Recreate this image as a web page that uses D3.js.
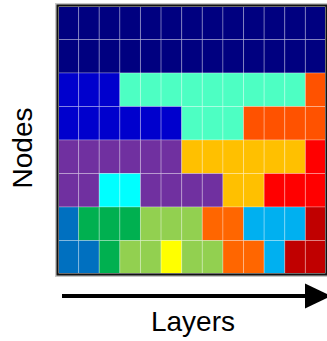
<!DOCTYPE html>
<html>
<head>
<meta charset="utf-8">
<script src="https://cdn.jsdelivr.net/npm/d3@7"></script>
<style>
  html, body { margin: 0; padding: 0; background: #fff; }
  svg { display: block; }
  text { font-family: "Liberation Sans", Arial, sans-serif; fill: #000; }
</style>
</head>
<body>
<svg id="chart" width="327" height="341"></svg>
<script>
// Layers along x, nodes along y
const layers = ["L1", "L2", "L3", "L4", "L5", "L6", "L7", "L8", "L9", "L10", "L11", "L12", "L13"];
const nodes = ["N1", "N2", "N3", "N4", "N5", "N6", "N7", "N8"];

// Colour of each group
const groupColors = {
  A: "#000080", // navy
  B: "#0000CD", // medium blue
  C: "#4DFFC3", // aquamarine
  D: "#FF5200", // orange-red
  E: "#7030A0", // purple
  F: "#FFC000", // gold
  G: "#FF0000", // red
  H: "#00FFFF", // cyan
  I: "#0070C0", // blue
  J: "#00B050", // green
  K: "#92D050", // light green
  L: "#FF6600", // orange
  M: "#00B0F0", // light blue
  N: "#C00000", // dark red
  O: "#FFFF00"  // yellow
};

// Group assignment of each node, layer by layer
const row1 = ["A","A","A","A","A","A","A","A","A","A","A","A","A"];
const row2 = ["A","A","A","A","A","A","A","A","A","A","A","A","A"];
const row3 = ["B","B","B","C","C","C","C","C","C","C","C","C","D"];
const row4 = ["B","B","B","B","B","B","C","C","C","D","D","D","D"];
const row5 = ["E","E","E","E","E","E","F","F","F","F","F","F","G"];
const row6 = ["E","E","H","H","E","E","E","E","F","F","G","G","G"];
const row7 = ["I","J","J","J","K","K","K","L","L","M","M","M","N"];
const row8 = ["I","I","J","K","K","O","K","K","L","L","M","N","N"];
const rows = [row1, row2, row3, row4, row5, row6, row7, row8];

const svg = d3.select("#chart");

const x = d3.scaleBand().domain(layers).range([58, 326]).padding(0);
const y = d3.scaleBand().domain(nodes).range([6, 274]).padding(0);

const cells = [];
rows.forEach((r, i) => r.forEach((g, j) => cells.push({ node: nodes[i], layer: layers[j], group: g })));

// Cells
svg.append("g")
  .selectAll("rect")
  .data(cells)
  .join("rect")
  .attr("x", d => x(d.layer))
  .attr("y", d => y(d.node))
  .attr("width", x.bandwidth())
  .attr("height", y.bandwidth())
  .attr("fill", d => groupColors[d.group])
  .attr("stroke", "rgba(255,255,255,0.28)")
  .attr("stroke-width", 1);

// Frame with soft halo
const [x0, x1] = x.range();
const [y0, y1] = y.range();
svg.append("rect")
  .attr("x", x0 - 1).attr("y", y0 - 1)
  .attr("width", x1 - x0 + 2).attr("height", y1 - y0 + 2)
  .attr("fill", "none").attr("stroke", "#c8c8c8").attr("stroke-width", 4);
svg.append("rect")
  .attr("x", x0 - 0.5).attr("y", y0 - 0.5)
  .attr("width", x1 - x0 + 1).attr("height", y1 - y0 + 1)
  .attr("fill", "none").attr("stroke", "#111").attr("stroke-width", 2);

// Arrow along the layers direction
const ay = 296;
svg.append("line")
  .attr("x1", 62).attr("y1", ay).attr("x2", 308).attr("y2", ay)
  .attr("stroke", "#000").attr("stroke-width", 4);
svg.append("path")
  .attr("d", `M305,${ay - 12.5} L331,${ay} L305,${ay + 12.5} Z`)
  .attr("fill", "#000");

// Axis titles
svg.append("text")
  .attr("x", (x0 + x1) / 2 + 1)
  .attr("y", 331)
  .attr("text-anchor", "middle")
  .attr("font-size", 28)
  .text("Layers");

svg.append("text")
  .attr("transform", "translate(32,148) rotate(-90)")
  .attr("text-anchor", "middle")
  .attr("font-size", 28)
  .text("Nodes");
</script>
</body>
</html>
